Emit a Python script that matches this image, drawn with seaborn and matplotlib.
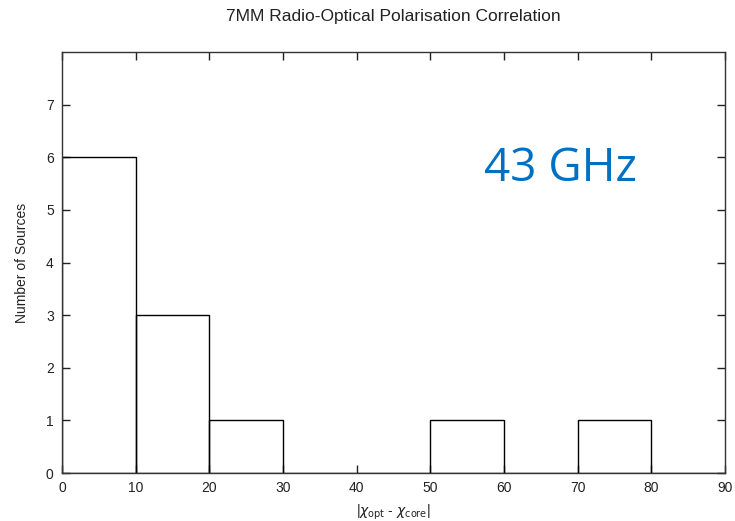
import matplotlib
matplotlib.use("Agg")
import matplotlib.pyplot as plt
import seaborn as sns
import numpy as np

# Histogram of polarisation angle offsets (degrees), 10-degree bins
bin_edges = [0, 10, 20, 30, 40, 50, 60, 70, 80, 90]
counts = [6, 3, 1, 0, 0, 1, 0, 1, 0]
bin_centers = [5, 15, 25, 35, 45, 55, 65, 75, 85]

x_ticks = [0, 10, 20, 30, 40, 50, 60, 70, 80, 90]
y_ticks = [0, 1, 2, 3, 4, 5, 6, 7]

sns.set_theme(style="ticks")
plt.rcParams["font.family"] = ["Liberation Sans", "DejaVu Sans"]

fig = plt.figure(figsize=(7.35, 5.21), dpi=100)
ax = fig.add_axes([0.0844, 0.0921, 0.9020, 0.8081])

sns.histplot(x=bin_centers, weights=counts, bins=bin_edges, fill=False,
             element="bars", color="black", linewidth=1.0, ax=ax)

ax.set_xlim(0, 90)
ax.set_ylim(0, 8)
ax.set_xticks(x_ticks)
ax.set_yticks(y_ticks)
ax.tick_params(direction="in", length=6, width=1, top=True, right=True,
               labelsize=10, colors="#222222", pad=6)
for side in ["top", "right", "bottom", "left"]:
    ax.spines[side].set_visible(True)
    ax.spines[side].set_color("#333333")
    ax.spines[side].set_linewidth(1.0)

ax.set_title("7MM Radio-Optical Polarisation Correlation", fontsize=12.5,
             color="#222222", pad=22)
ax.set_xlabel(r"|$\chi_{\rm opt}$ - $\chi_{\rm core}$|", fontsize=10,
              color="#222222", labelpad=5)
ax.set_ylabel("Number of Sources", fontsize=10, color="#222222", labelpad=12)

ax.text(57.3, 5.55, "43 GHz", fontsize=33, color="#0070C0",
        family=["Open Sans", "DejaVu Sans"], ha="left", va="baseline")

fig.savefig("out.png", dpi=100)
